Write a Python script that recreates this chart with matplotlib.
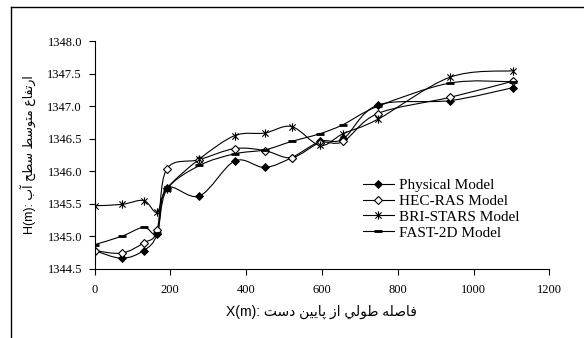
import matplotlib
matplotlib.use("Agg")
import matplotlib.pyplot as plt
from matplotlib.path import Path
from matplotlib.patches import PathPatch
from matplotlib.lines import Line2D
import numpy as np

# Data
x_m = [0, 72, 130, 165, 190, 277, 370, 449, 520, 595, 656, 747, 938, 1105]
physical = [1344.78, 1344.66, 1344.78, 1345.03, 1345.74, 1345.62, 1346.16,
            1346.06, 1346.21, 1346.46, 1346.50, 1347.02, 1347.09, 1347.29]
hec_ras = [1344.78, 1344.74, 1344.90, 1345.09, 1346.03, 1346.18, 1346.35,
           1346.32, 1346.21, 1346.44, 1346.46, 1346.89, 1347.14, 1347.39]
bri_stars = [1345.47, 1345.49, 1345.55, 1345.37, 1345.73, 1346.19, 1346.55,
             1346.59, 1346.69, 1346.40, 1346.58, 1346.80, 1347.45, 1347.55]
fast_2d = [1344.87, 1345.00, 1345.14, 1345.05, 1345.71, 1346.09, 1346.27,
           1346.33, 1346.46, 1346.58, 1346.72, 1347.00, 1347.36, 1347.38]
labels = ["Physical Model", "HEC-RAS Model", "BRI-STARS Model", "FAST-2D Model"]
x_ticks = [0, 200, 400, 600, 800, 1000, 1200]
y_ticks = [1344.5, 1345.0, 1345.5, 1346.0, 1346.5, 1347.0, 1347.5, 1348.0]
x_title = "فاصله طولي از پايين دست"
y_title = "ارتفاع متوسط سطح آب"

# matplotlib has no Arabic shaping, so pick presentation forms by hand
FORMS = {
    "ا": ("\uFE8D", "\uFE8E", None, None),
    "آ": ("\uFE81", "\uFE82", None, None),
    "ب": ("\uFE8F", "\uFE90", "\uFE91", "\uFE92"),
    "پ": ("\uFB56", "\uFB57", "\uFB58", "\uFB59"),
    "ت": ("\uFE95", "\uFE96", "\uFE97", "\uFE98"),
    "ح": ("\uFEA1", "\uFEA2", "\uFEA3", "\uFEA4"),
    "د": ("\uFEA9", "\uFEAA", None, None),
    "ر": ("\uFEAD", "\uFEAE", None, None),
    "ز": ("\uFEAF", "\uFEB0", None, None),
    "س": ("\uFEB1", "\uFEB2", "\uFEB3", "\uFEB4"),
    "ص": ("\uFEB9", "\uFEBA", "\uFEBB", "\uFEBC"),
    "ط": ("\uFEC1", "\uFEC2", "\uFEC3", "\uFEC4"),
    "ع": ("\uFEC9", "\uFECA", "\uFECB", "\uFECC"),
    "ف": ("\uFED1", "\uFED2", "\uFED3", "\uFED4"),
    "ل": ("\uFEDD", "\uFEDE", "\uFEDF", "\uFEE0"),
    "م": ("\uFEE1", "\uFEE2", "\uFEE3", "\uFEE4"),
    "ن": ("\uFEE5", "\uFEE6", "\uFEE7", "\uFEE8"),
    "ه": ("\uFEE9", "\uFEEA", "\uFEEB", "\uFEEC"),
    "و": ("\uFEED", "\uFEEE", None, None),
    "ي": ("\uFEF1", "\uFEF2", "\uFEF3", "\uFEF4"),
}


def shape_word(w):
    out = []
    for i, ch in enumerate(w):
        f = FORMS[ch]
        prev_j = i > 0 and FORMS[w[i - 1]][2] is not None
        next_j = i < len(w) - 1 and f[2] is not None
        if prev_j and next_j:
            out.append(f[3])
        elif prev_j:
            out.append(f[1])
        elif next_j:
            out.append(f[2])
        else:
            out.append(f[0])
    return "".join(reversed(out))


def rtl(text):
    return " ".join(shape_word(w) for w in reversed(text.split()))


def smooth_path(xs, ys):
    # Excel-style smoothed line: cubic bezier through every point
    p = np.column_stack([xs, ys]).astype(float)
    ext = np.vstack([p[0], p, p[-1]])
    verts = [p[0]]
    codes = [Path.MOVETO]
    for i in range(len(p) - 1):
        c1 = p[i] + (ext[i + 2] - ext[i]) / 6.0
        c2 = p[i + 1] - (ext[i + 3] - ext[i + 1]) / 6.0
        verts += [c1, c2, p[i + 1]]
        codes += [Path.CURVE4] * 3
    return Path(verts, codes)


star = Path([(0, -1), (0, 1), (-0.75, -0.75), (0.75, 0.75), (-0.75, 0.75), (0.75, -0.75)],
            [Path.MOVETO, Path.LINETO] * 3)

styles = [
    dict(marker="D", ms=4.2, mfc="black", mec="black", mew=0.6),
    dict(marker="D", ms=4.5, mfc="white", mec="black", mew=0.8),
    dict(marker=star, ms=6, mfc="none", mec="black", mew=0.8),
    dict(marker="_", ms=5.5, mec="black", mew=2.0),
]

serif = ["Liberation Serif", "DejaVu Serif"]
sans = ["Liberation Sans", "DejaVu Sans"]

fig = plt.figure(figsize=(5.84, 3.38), dpi=100)
ax = fig.add_axes([94.5 / 584, 1 - 268.7 / 338, 454.8 / 584, 227.2 / 338])

handles = []
for ys, st, lab in zip([physical, hec_ras, bri_stars, fast_2d], styles, labels):
    ax.add_patch(PathPatch(smooth_path(x_m, ys), fill=False, edgecolor="black",
                           lw=0.8, transform=ax.transData))
    ax.plot(x_m, ys, linestyle="none", **st)
    handles.append(Line2D([], [], color="black", lw=0.8, label=lab, **st))

ax.set_xlim(0, 1200)
ax.set_ylim(1344.5, 1348.0)
ax.set_xticks(x_ticks)
ax.set_yticks(y_ticks)
ax.set_xticklabels([str(t) for t in x_ticks], family=serif, fontsize=9)
ax.set_yticklabels([f"{t:.1f}" for t in y_ticks], family=serif, fontsize=9)
ax.tick_params(axis="both", direction="out", length=4, width=0.8, color="black")
ax.tick_params(axis="x", pad=7)
ax.tick_params(axis="y", pad=5)
for side in ["top", "right"]:
    ax.spines[side].set_visible(False)
for side in ["left", "bottom"]:
    ax.spines[side].set_linewidth(0.8)

ax.set_xlabel("X(m): " + rtl(x_title), family=sans, fontsize=10, labelpad=6)
ax.set_ylabel("H(m): " + rtl(y_title), family=sans, fontsize=9, labelpad=8)

fig.legend(handles=handles, loc="center left", bbox_to_anchor=(363 / 584, 1 - 209 / 338),
           frameon=False, prop={"family": serif, "size": 11}, borderpad=0,
           borderaxespad=0, handlelength=2.0, handletextpad=0.35, labelspacing=0.15)

# outer frame, cut by the image edge on the right and bottom
fig.add_artist(Line2D([11 / 584, 11 / 584], [0, 1 - 7.3 / 338], color="black", lw=1.0))
fig.add_artist(Line2D([11 / 584, 1], [1 - 7.3 / 338, 1 - 7.3 / 338], color="black", lw=1.0))

fig.savefig("out.png", dpi=100)
